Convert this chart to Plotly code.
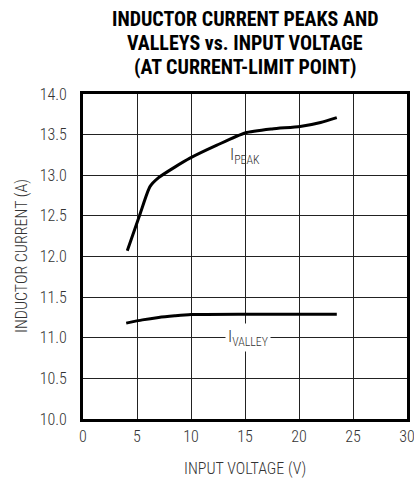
import plotly.graph_objects as go

peak_v = [4.1, 5.3, 6.2, 7.0, 8.5, 9.9, 12.4, 15.0, 17.5, 20.1, 22.0, 23.5]
peak_i = [12.07, 12.53, 12.86, 12.97, 13.10, 13.21, 13.37, 13.52, 13.57, 13.60, 13.65, 13.71]
valley_v = [4.0, 5.5, 7.0, 8.5, 10.0, 15.0, 20.0, 23.5]
valley_i = [11.18, 11.22, 11.25, 11.27, 11.285, 11.29, 11.29, 11.29]
x_ticks = [0, 5, 10, 15, 20, 25, 30]
y_ticks = [10.0, 10.5, 11.0, 11.5, 12.0, 12.5, 13.0, 13.5, 14.0]
title_lines = ["INDUCTOR CURRENT PEAKS AND", "VALLEYS vs. INPUT VOLTAGE", "(AT CURRENT-LIMIT POINT)"]

FONT = "Roboto Condensed, Liberation Sans Narrow, Arial Narrow, Liberation Sans, Arial, sans-serif"
W, H = 414, 480
L, R, T, B = 83, 7, 94, 61
TXT = "#333"
LIGHT = 300

fig = go.Figure()
fig.add_trace(go.Scatter(x=peak_v, y=peak_i, mode="lines",
                         line=dict(color="black", width=3, shape="spline", smoothing=0.6),
                         showlegend=False, hoverinfo="skip"))
fig.add_trace(go.Scatter(x=valley_v, y=valley_i, mode="lines",
                         line=dict(color="black", width=3, shape="spline", smoothing=0.6),
                         showlegend=False, hoverinfo="skip"))

fig.add_annotation(x=15.0, y=13.24, text="I<sub>PEAK</sub>", showarrow=False,
                   font=dict(family=FONT, size=17, color=TXT, weight=LIGHT),
                   xanchor="center", yanchor="middle")
fig.add_annotation(x=15.3, y=11.0, text="I<sub>VALLEY</sub>", showarrow=False,
                   font=dict(family=FONT, size=17, color=TXT, weight=LIGHT), bgcolor="white",
                   xanchor="center", yanchor="middle", borderpad=2)

# title lines
for i, (line, yc) in enumerate(zip(title_lines, [19, 42.5, 66.5])):
    fig.add_annotation(xref="paper", yref="paper",
                       x=(245 - L) / (W - L - R), y=1 + (T - yc) / (H - T - B),
                       text="<b>" + line + "</b>", showarrow=False,
                       xanchor="center", yanchor="middle",
                       font=dict(family=FONT, size=20, color="black"))
# axis titles
fig.add_annotation(xref="paper", yref="paper",
                   x=(245 - L) / (W - L - R), y=-(468 - (H - B)) / (H - T - B),
                   text="INPUT VOLTAGE (V)", showarrow=False, xanchor="center", yanchor="middle",
                   font=dict(family=FONT, size=16, color=TXT, weight=LIGHT))
fig.add_annotation(xref="paper", yref="paper",
                   x=-(L - 21.5) / (W - L - R), y=0.5,
                   text="INDUCTOR CURRENT (A)", showarrow=False, textangle=-90,
                   xanchor="center", yanchor="middle",
                   font=dict(family=FONT, size=16, color=TXT, weight=LIGHT))

fig.update_layout(
    width=W, height=H,
    margin=dict(l=L, r=R, t=T, b=B, autoexpand=False),
    paper_bgcolor="white", plot_bgcolor="white",
    font=dict(family=FONT, color=TXT),
)
fig.update_xaxes(range=[0, 30], tickvals=x_ticks, ticktext=[str(t) for t in x_ticks],
                 showgrid=True, gridcolor="#222", gridwidth=1,
                 showline=True, linecolor="black", linewidth=3, mirror=True,
                 ticks="outside", ticklen=1, tickcolor="rgba(0,0,0,0)",
                 ticklabeloverflow="allow",
                 tickfont=dict(family=FONT, size=16, color=TXT, weight=LIGHT),
                 zeroline=False, fixedrange=True, automargin=False)
fig.update_yaxes(range=[10, 14], tickvals=y_ticks, ticktext=[f"{t:.1f}" for t in y_ticks],
                 showgrid=True, gridcolor="#222", gridwidth=1,
                 showline=True, linecolor="black", linewidth=3, mirror=True,
                 ticks="outside", ticklen=10, tickcolor="rgba(0,0,0,0)",
                 tickfont=dict(family=FONT, size=16, color=TXT, weight=LIGHT),
                 zeroline=False, fixedrange=True, automargin=False)

fig.write_html("out.html", post_script="document.body.style.margin='0';",
               config={"displayModeBar": False})
